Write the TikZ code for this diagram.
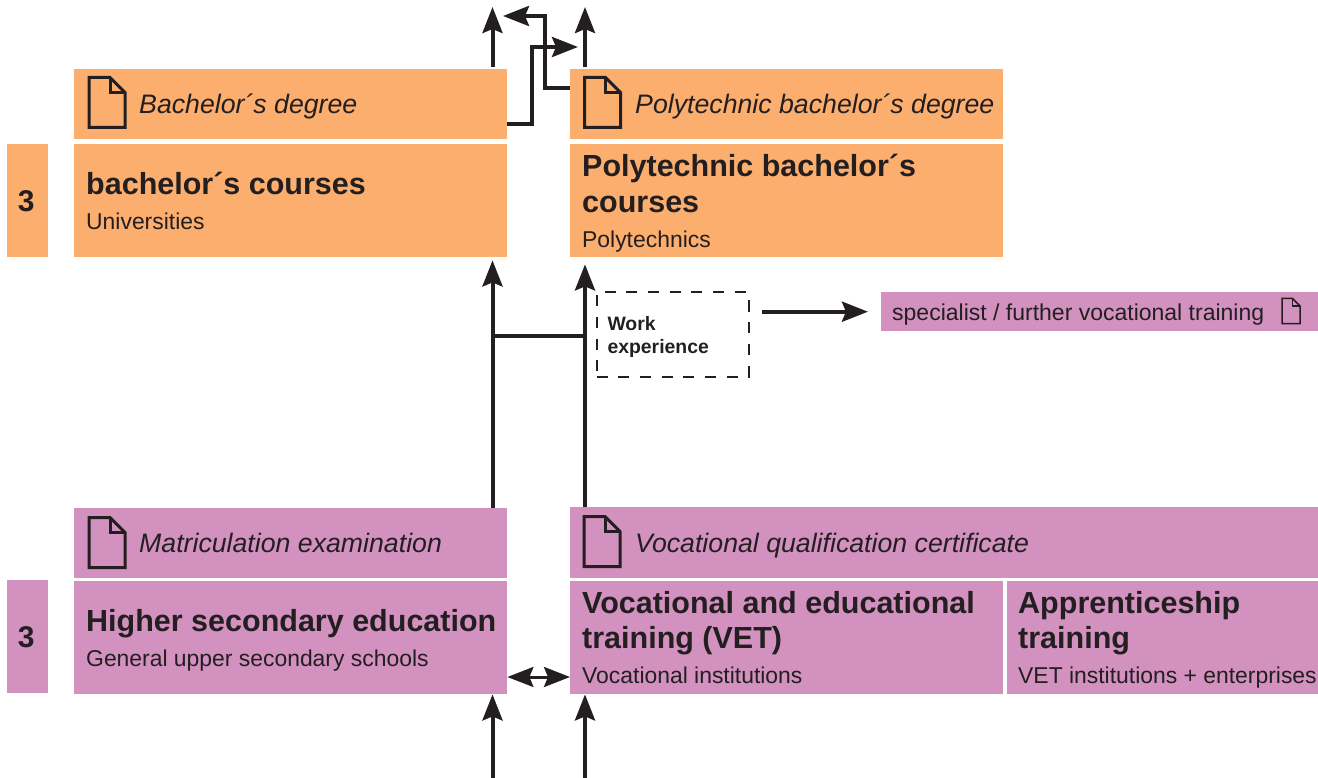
\documentclass[tikz,border=0pt]{standalone}
\usepackage{fontspec}
\usepackage{xcolor}
\setmainfont{Liberation Sans}
\usetikzlibrary{arrows.meta,
	calc}
\definecolor{bachorange}{HTML}{FCAE6E}
\definecolor{secpink}{HTML}{D291BF}
\definecolor{inkgray}{HTML}{231F20}
\newcommand{\ctitle}[1]{{\fontsize{30.5}{35.5}\selectfont\bfseries\spaceskip=0pt #1\par}}
\newcommand{\csub}[1]{{\fontsize{22.9}{35}\selectfont\spaceskip=0pt #1\par}}
\tikzset{
	flowarrow/.style={draw=inkgray,line width=4pt,-{Stealth[length=26pt,width=20pt,inset=4pt]}},
	flowline/.style={draw=inkgray,line width=4pt},
	levelbox/.style={anchor=north west,inner sep=0pt,minimum width=41pt,minimum height=113pt,text=inkgray,font=\fontsize{30}{32}\selectfont\bfseries},
	coursebox/.style={anchor=north west,inner xsep=12pt,inner ysep=0pt,text width=#1,minimum height=113pt,align=left,text=inkgray},
	degreebox/.style={anchor=north west,inner xsep=0pt,inner ysep=0pt,text width=#1,text height=22pt,text depth=3pt,minimum height=70.5pt,align=left,text=inkgray,font=\fontsize{26.7}{30}\selectfont\itshape,execute at begin node={\spaceskip=0pt\hspace*{65pt}}},
	docicon/.pic={
		\draw[pic actions] (0,0) -- (21,0) -- (36,15) -- (36,50) -- (0,50) -- cycle;
		\draw[pic actions] (21,0) -- (21,15) -- (36,15);
	}
}

\begin{document}
\begin{tikzpicture}[x=1pt,y=-1pt]
	\useasboundingbox (0,0) rectangle (1318,778);
	\foreach \idx/\fillcol/\ytop in {top/bachorange/144,bot/secpink/580} {
		\node[levelbox,fill=\fillcol] (level\idx) at (7,\ytop) {\kern-3pt 3};
	}
	\node[degreebox=433pt,fill=bachorange] (bachdeg) at (74,68.5) {Bachelor´s degree};
	\node[degreebox=433pt,fill=bachorange] (polydeg) at (570,68.5) {Polytechnic bachelor´s degree};
	\node[coursebox=409pt,fill=bachorange] (bachcourse) at (74,144) {\ctitle{bachelor´s courses}\csub{Universities}};
	\node[coursebox=409pt,fill=bachorange] (polycourse) at (570,144) {\ctitle{\rule{0pt}{27pt}Polytechnic bachelor´s\newline courses}\csub{Polytechnics}};
	\node[degreebox=433pt,fill=secpink] (matric) at (74,507.5) {Matriculation examination};
	\node[degreebox=748pt,minimum height=71pt,fill=secpink] (vetcert) at (570,507) {Vocational qualification certificate};
	\node[coursebox=409pt,fill=secpink] (higher) at (74,581) {\ctitle{\rule{0pt}{28pt}\mbox{Higher secondary education}}\csub{General upper secondary schools}};
	\node[coursebox=409pt,fill=secpink] (vet) at (570,581) {\ctitle{Vocational and educational\newline training (VET)}\csub{Vocational institutions}};
	\node[coursebox=300pt,inner xsep=11pt,text width=289pt,fill=secpink] (appr) at (1007,581) {\ctitle{\rule{0pt}{26pt}Apprenticeship\newline training}\csub{\mbox{VET institutions + enterprises}}};
	\node[anchor=north west,draw=inkgray,outer sep=0pt,line width=2pt,dash pattern=on 11pt off 10.7pt,inner xsep=11pt,inner ysep=0pt,text width=130pt,minimum height=84pt,align=left,text=inkgray,font=\fontsize{19.4}{23}\selectfont\bfseries,execute at begin node={\spaceskip=0pt}] (work) at (596.5,292.5) {\rule{0pt}{20pt}Work\\experience};
	\node[anchor=north west,fill=secpink,inner xsep=11pt,inner ysep=0pt,text width=415pt,text height=20pt,text depth=3pt,minimum height=39pt,align=left,text=inkgray,font=\fontsize{23}{28}\selectfont,execute at begin node={\spaceskip=0pt}] (spec) at (881,292) {specialist / further vocational training};

	\foreach \xpos/\ypos/\name in {89/77.5/a,584.5/77.5/b,89/517.5/c,584/516.5/d} {
		\pic[draw=inkgray,line width=3pt] (icon\name) at (\xpos,\ypos) {docicon};
	}
	\pic[draw=inkgray,line width=1.5pt,scale=0.5] (iconspec) at (1282,298.5) {docicon};

	\coordinate (topL) at (492.5,7);
	\coordinate (topR) at (585,7);
	\coordinate (botL) at (492.5,778);
	\coordinate (botR) at (585,778);
	\coordinate (swapA) at (545,88);
	\coordinate (swapB) at (545,16);
	\coordinate (swapTipA) at (503,16);
	\coordinate (swapC) at (532,124);
	\coordinate (swapD) at (532,47);
	\coordinate (swapTipB) at (578,47);
	\coordinate (joinL) at (492.5,335.5);
	\coordinate (bothY) at (539,677);

	\draw[flowarrow,shorten <=1.5pt] (bachdeg.north -| topL) -- (topL);
	\draw[flowarrow,shorten <=1.5pt] (polydeg.north -| topR) -- (topR);
	\draw[flowarrow] (polydeg.west |- swapA) -- (swapA) -- (swapB) -- (swapTipA);
	\draw[flowarrow] (bachdeg.east |- swapC) -- (swapC) -- (swapD) -- (swapTipB);
	\draw[flowarrow,shorten >=3pt] (matric.north -| topL) -- (bachcourse.south -| topL);
	\draw[flowarrow,shorten >=7pt] (vetcert.north -| topR) -- (polycourse.south -| topR);
	\draw[flowline] (joinL) -- (joinL -| topR);
	\draw[flowarrow,shorten <=13pt,shorten >=13pt] (work.east |- spec.west) -- (spec.west);
	\draw[draw=inkgray,line width=3pt,{Stealth[length=26pt,width=20pt,inset=4pt]}-{Stealth[length=26pt,width=20pt,inset=4pt]}] (higher.east |- bothY) -- (vet.west |- bothY);
	\draw[flowarrow] (botL) -- (higher.south -| botL);
	\draw[flowarrow] (botR) -- (vet.south -| botR);
\end{tikzpicture}
\end{document}
